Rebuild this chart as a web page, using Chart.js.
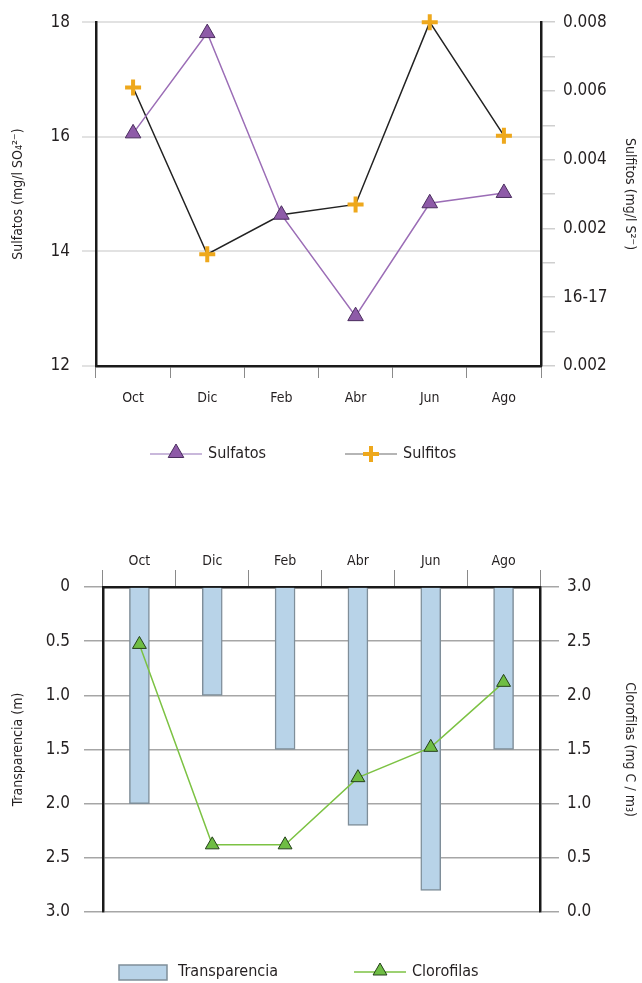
<!DOCTYPE html>
<html>
<head>
<meta charset="utf-8">
<script src="https://cdn.jsdelivr.net/npm/chart.js@4.4.1/dist/chart.umd.min.js"></script>
<style>
  body { margin: 0; background: #fff; }
  #top { position: absolute; left: 0; top: 0; }
  #bottom { position: absolute; left: 0; top: 500px; }
</style>
</head>
<body>
<canvas id="top" width="642" height="480"></canvas>
<canvas id="bottom" width="642" height="483"></canvas>
<script>
// data
var meses = ['Oct', 'Dic', 'Feb', 'Abr', 'Jun', 'Ago'];
var sulfatos = [16.06, 17.81, 14.64, 12.87, 14.84, 15.02];
var sulfitos = [0.0061, 0.00125, 0.0024, 0.0027, 0.008, 0.0047];
var sulfitosTicks = ['0.002', '16-17', '0.002', '0.004', '0.006', '0.008'];
var transparencia = [2.0, 1.0, 1.5, 2.2, 2.8, 1.5];
var clorofilas = [2.47, 0.62, 0.62, 1.24, 1.52, 2.12];
var transTicks = ['0', '0.5', '1.0', '1.5', '2.0', '2.5', '3.0'];
var cloroTicks = ['0.0', '0.5', '1.0', '1.5', '2.0', '2.5', '3.0'];

Chart.defaults.font.family = '"Liberation Sans Narrow", "DejaVu Sans Condensed", "Noto Sans", sans-serif';
Chart.defaults.color = '#231f20';

// legend with a line through the marker, drawn under the chart
function lineLegend(items, y) {
  return {
    id: 'lineLegend',
    afterDraw: function(chart) {
      var ctx = chart.ctx;
      ctx.save();
      items.forEach(function(it) {
        var ds = chart.data.datasets[it.ds];
        if (it.box) {
          ctx.fillStyle = ds.backgroundColor;
          ctx.strokeStyle = ds.borderColor;
          ctx.lineWidth = 1.5;
          ctx.fillRect(it.x, y - 7, 48, 15);
          ctx.strokeRect(it.x, y - 7, 48, 15);
        } else {
          ctx.strokeStyle = it.line;
          ctx.lineWidth = 1.5;
          ctx.beginPath();
          ctx.moveTo(it.x, y);
          ctx.lineTo(it.x + 52, y);
          ctx.stroke();
          ctx.fillStyle = ds.pointBackgroundColor;
          ctx.strokeStyle = ds.pointBorderColor;
          ctx.lineWidth = ds.pointBorderWidth;
          var r = Array.isArray(ds.pointRadius) ? ds.pointRadius[0] : ds.pointRadius;
          var py = ds.pointStyle === 'triangle' ? y - 1 : y;
          Chart.helpers.drawPoint(ctx, {pointStyle: ds.pointStyle, radius: r, borderWidth: ds.pointBorderWidth, rotation: 0}, it.x + 26, py);
        }
        ctx.fillStyle = '#231f20';
        ctx.font = '16px ' + Chart.defaults.font.family;
        ctx.textBaseline = 'middle';
        ctx.fillText(ds.label, it.tx, y);
      });
      ctx.restore();
    }
  };
}

new Chart(document.getElementById('top'), {
  type: 'line',
  data: {
    labels: meses,
    datasets: [{
      label: 'Sulfatos',
      data: sulfatos,
      yAxisID: 'y',
      clip: false,
      borderColor: '#9b6db6',
      borderWidth: 1.5,
      pointStyle: 'triangle',
      pointRadius: 9,
      pointBackgroundColor: '#8e5ba8',
      pointBorderColor: '#4a2d5e',
      pointBorderWidth: 1
    }, {
      label: 'Sulfitos',
      data: sulfitos,
      yAxisID: 'y2',
      clip: false,
      borderColor: '#222222',
      borderWidth: 1.5,
      pointStyle: 'cross',
      pointRadius: [8, 8, 0, 8, 8, 8],
      pointBackgroundColor: '#eea81c',
      pointBorderColor: '#eea81c',
      pointBorderWidth: 4
    }]
  },
  options: {
    responsive: false,
    animation: false,
    layout: { padding: { top: 20, left: 0, right: 0, bottom: 64 } },
    plugins: { legend: { display: false }, tooltip: { enabled: false } },
    scales: {
      x: {
        offset: true,
        afterFit: function(s) { s.height = 50; },
        grid: { offset: true, drawOnChartArea: false, color: '#8a8a8a', tickLength: 12 },
        border: { color: '#1a1a1a', width: 2.5 },
        ticks: { padding: 12, font: { size: 14 } }
      },
      y: {
        position: 'left',
        min: 12, max: 18,
        afterFit: function(s) { s.width = 96; },
        grid: { color: '#e2e2e2', lineWidth: 2, tickLength: 14 },
        border: { color: '#1a1a1a', width: 2.5 },
        ticks: { stepSize: 2, padding: 12, font: { size: 17 } },
        title: { display: true, text: 'Sulfatos (mg/l SO₄²⁻)', font: { size: 14 }, padding: { top: 10, bottom: 0 } }
      },
      y2: {
        position: 'right',
        min: -0.002, max: 0.008,
        afterFit: function(s) { s.width = 101; },
        grid: { drawOnChartArea: false, color: '#cfcfcf', lineWidth: 1.5, tickLength: 14 },
        border: { color: '#1a1a1a', width: 2.5 },
        ticks: {
          stepSize: 0.001, padding: 8, font: { size: 17 },
          callback: function(v, i) { return i % 2 === 0 ? sulfitosTicks[i / 2] : ''; }
        },
        title: { display: true, text: 'Sulfitos (mg/l S²⁻)', font: { size: 14 }, padding: { top: 4, bottom: 0 } }
      }
    }
  },
  plugins: [lineLegend([
    { ds: 0, x: 150, tx: 208, line: '#b7a0cf' },
    { ds: 1, x: 345, tx: 403, line: '#9d9d9d' }
  ], 454)]
});

new Chart(document.getElementById('bottom'), {
  data: {
    labels: meses,
    datasets: [{
      type: 'line',
      label: 'Clorofilas',
      data: clorofilas,
      yAxisID: 'y2',
      order: 0,
      borderColor: '#7cc243',
      borderWidth: 1.5,
      pointStyle: 'triangle',
      pointRadius: 8,
      pointBackgroundColor: '#6fbd44',
      pointBorderColor: '#24401a',
      pointBorderWidth: 1
    }, {
      type: 'bar',
      label: 'Transparencia',
      data: transparencia,
      yAxisID: 'y',
      order: 1,
      barThickness: 20,
      backgroundColor: '#b8d3e8',
      borderColor: '#7f8e99',
      borderWidth: 1.5
    }]
  },
  options: {
    responsive: false,
    animation: false,
    layout: { padding: { top: 0, left: 0, right: 0, bottom: 71 } },
    plugins: { legend: { display: false }, tooltip: { enabled: false } },
    scales: {
      x: {
        position: 'top',
        afterFit: function(s) { s.height = 87; },
        grid: { offset: true, drawOnChartArea: false, color: '#8a8a8a', tickLength: 17 },
        border: { color: '#1a1a1a', width: 2.5 },
        ticks: { padding: 0, font: { size: 14 } }
      },
      y: {
        position: 'left',
        reverse: true,
        min: 0, max: 3,
        afterFit: function(s) { s.width = 103; },
        grid: { color: '#a6a6a6', lineWidth: 1.5, tickLength: 19 },
        border: { color: '#1a1a1a', width: 2.5 },
        ticks: {
          stepSize: 0.5, padding: 14, font: { size: 17 },
          callback: function(v) { return transTicks[Math.round(v * 2)]; }
        },
        title: { display: true, text: 'Transparencia (m)', font: { size: 14 }, padding: { top: 10, bottom: 0 } }
      },
      y2: {
        position: 'right',
        min: 0, max: 3,
        afterFit: function(s) { s.width = 102; },
        grid: { drawOnChartArea: false, color: '#a6a6a6', lineWidth: 1.5, tickLength: 19 },
        border: { color: '#1a1a1a', width: 2.5 },
        ticks: {
          stepSize: 0.5, padding: 8, font: { size: 17 },
          callback: function(v) { return cloroTicks[Math.round(v * 2)]; }
        },
        title: { display: true, text: 'Clorofilas (mg C / m₃)', font: { size: 14 }, padding: { top: 4, bottom: 0 } }
      }
    }
  },
  plugins: [lineLegend([
    { ds: 1, x: 119, tx: 178, box: true },
    { ds: 0, x: 354, tx: 412, line: '#7cc243' }
  ], 472)]
});
</script>
</body>
</html>
